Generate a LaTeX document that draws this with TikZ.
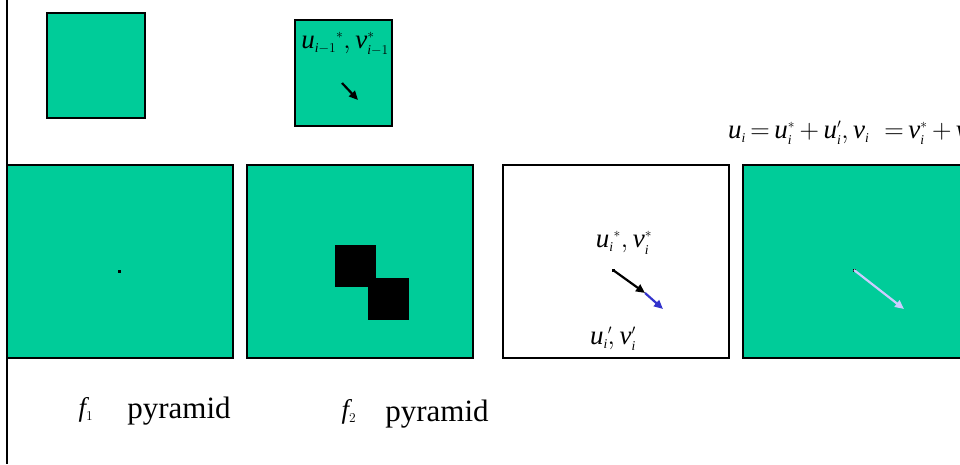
\RequirePackage{fix-cm}
\documentclass[tikz,border=0pt]{standalone}
\usepackage{fontspec}
\setmainfont{Liberation Serif}
\usetikzlibrary{arrows.meta}
\definecolor{customteal}{HTML}{00CC99}
\definecolor{customblue}{HTML}{3333CC}
\definecolor{customlilac}{HTML}{CCCCFF}

% letras en cursiva del texto e índices pequeños
\newcommand{\mv}[1]{\mathit{#1}}
\newcommand{\lowidx}[1]{{\scriptscriptstyle #1}}

\begin{document}
\begin{tikzpicture}[x=1pt, y=-1pt]
  \tikzset{
    teal_box/.style={rectangle, fill=customteal, draw, line width=2pt, inner sep=0pt},
    white_box/.style={rectangle, fill=white, draw, line width=2pt, inner sep=0pt},
    big_box/.style={minimum width=226pt, minimum height=193pt},
    black_square/.style={rectangle, fill=black, inner sep=0pt, minimum width=41pt, minimum height=42pt},
    dot/.style={rectangle, fill=black, inner sep=0pt, minimum size=3pt},
    math_label/.style={inner sep=0pt, font=\fontsize{27}{32}\selectfont},
    word_label/.style={inner sep=0pt, font=\fontsize{31}{36}\selectfont},
    motion/.style={line width=2.2pt, -{Triangle[length=9pt, width=8pt]}}
  }

  % Marco fijo de la figura
  \useasboundingbox (0,0) rectangle (960,464);

  % Línea vertical a la izquierda
  \coordinate (rule_top) at (7,0);
  \coordinate (rule_bottom) at (7,464);
  \draw[line width=2pt] (rule_top) -- (rule_bottom);

  % Niveles superiores de la pirámide
  \node[teal_box, minimum width=98pt, minimum height=105pt] (small_one) at (96,65.5) {};
  \node[teal_box, minimum width=97pt, minimum height=106pt] (small_two) at (343.5,73) {};

  % Niveles inferiores
  \node[teal_box, big_box] (big_one) at (120,261.5) {};
  \node[teal_box, big_box] (big_two) at (360,261.5) {};
  \node[white_box, big_box] (big_three) at (616,261.5) {};
  \node[teal_box, big_box] (big_four) at (856,261.5) {};

  % Cuadrados negros en f2
  \node[black_square] (square_a) at (355.5,266) {};
  \node[black_square] (square_b) at (388.5,298.5) {};

  % Puntos
  \node[dot] (dot_one) at (119,271) {};
  \node[dot] (dot_three) at (613,270) {};
  \node[dot] (dot_four) at (854,270) {};

  % Vectores de movimiento
  \coordinate (arrow_start) at (342,83);
  \coordinate (arrow_end) at (358,100);
  \draw[motion] (arrow_start) -- (arrow_end);

  \coordinate (mid_three) at (645,293);
  \coordinate (end_three) at (663,309);
  \draw[motion, customblue] (mid_three) -- (end_three);
  \draw[motion] (dot_three.center) -- (mid_three);

  \coordinate (end_four) at (904,309);
  \draw[motion, customlilac] (dot_four.center) -- (end_four);

  % Etiquetas
  \node[math_label] (label_prev) at (345,44)
    {$\mv{u}_{\lowidx{\mv{i}-1}}{}^{\lowidx{*}},\mv{v}^{\lowidx{*}}_{\lowidx{\mv{i}-1}}$};
  \node[math_label, anchor=west] (label_sum) at (728,133)
    {$\mv{u}_{\lowidx{\mv{i}}}\,{=}\,\mv{u}^{\lowidx{*}}_{\lowidx{\mv{i}}}\,{+}\,\mv{u}^{\lowidx{\prime}}_{\lowidx{\mv{i}}},
      \mv{v}_{\lowidx{\mv{i}}}\;\;{=}\,\mv{v}^{\lowidx{*}}_{\lowidx{\mv{i}}}\,{+}\,\mv{v}^{\lowidx{\prime}}_{\lowidx{\mv{i}}}$};
  \node[math_label] (label_star) at (624,243)
    {$\mv{u}_{\lowidx{\mv{i}}}{}^{\lowidx{*}}, \mv{v}^{\lowidx{*}}_{\lowidx{\mv{i}}}$};
  \node[math_label] (label_prime) at (613,339)
    {$\mv{u}_{\lowidx{\mv{i}}}{}^{\lowidx{\prime}}\!,\mv{v}^{\lowidx{\prime}}_{\lowidx{\mv{i}}}$};

  \node[math_label] (f_one) at (86,410) {$\mv{f}_{\lowidx{1}}$};
  \node[word_label] (pyr_one) at (179,411) {pyramid};
  \node[math_label] (f_two) at (349,412) {$\mv{f}_{\lowidx{2}}$};
  \node[word_label] (pyr_two) at (437,414) {pyramid};
\end{tikzpicture}
\end{document}
